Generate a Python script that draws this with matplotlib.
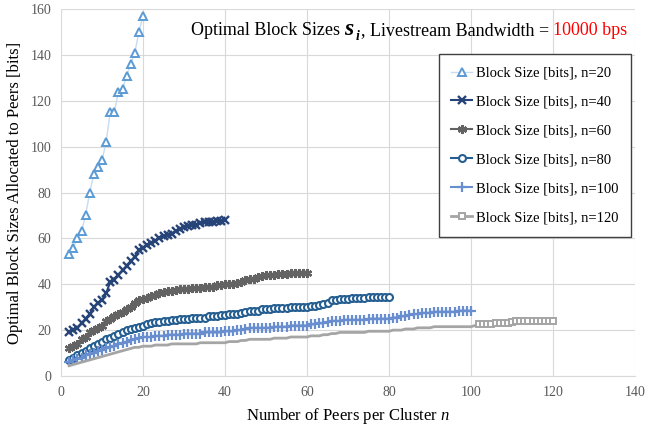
import matplotlib
matplotlib.use("Agg")
import matplotlib.pyplot as plt
import numpy as np

plt.rcParams['font.family'] = ['Liberation Serif', 'DejaVu Serif']
plt.rcParams['mathtext.fontset'] = 'custom'
plt.rcParams['mathtext.rm'] = 'Liberation Serif'
plt.rcParams['mathtext.it'] = 'Liberation Serif:italic'
plt.rcParams['mathtext.bf'] = 'Liberation Serif:bold'

# ---- data ----
y20 = [53, 56, 60, 63, 70, 80, 88, 91, 94, 102, 115, 115, 124, 125, 131, 136, 141, 150, 157]
y40 = [19, 20, 21, 23, 25, 27, 30, 32, 33, 36, 41, 42, 44, 46, 48, 50, 52, 55, 56, 57,
       58, 59, 60, 61, 61.5, 62, 63, 64, 65, 65.5, 66, 66, 66.5, 67, 67, 67, 67.5, 67.5, 68]
y60 = [12, 13, 14, 16, 17, 19, 20, 21, 22, 24, 25, 26, 27, 28, 29, 30, 32, 33, 33.5, 34,
       35, 35.5, 36, 36.5, 37, 37, 37.5, 38, 38, 38, 38.5, 38.5, 38.5, 39, 39, 39, 39.5, 39.5, 40,
       40, 40, 40.5, 41, 42, 42.5, 42.5, 43, 43.5, 44, 44, 44, 44.5, 44.5, 44.5, 45, 45, 45, 45, 45]
y80 = [7, 8, 9, 10, 11, 12, 13, 14, 15, 16, 16.5, 17.5, 18.5, 19, 20, 20.5, 21, 21.5, 22,
       22.5, 23, 23.5, 23.5, 24, 24, 24.5, 24.5, 25, 25, 25, 25.5, 25.5, 25.5, 25.5, 26, 26, 26,
       26.5, 26.5, 27, 27, 27, 27.5, 28, 28.5, 28.5, 28.5, 29, 29, 29, 29.5, 29.5, 29.5, 29.5,
       30, 30, 30, 30, 30, 30.5, 30.5, 31, 31.5, 32, 33, 33, 33.5, 33.5, 33.5, 34, 34, 34, 34,
       34.5, 34.5, 34.5, 34.5, 34.5, 34.5]
y100 = [6, 7, 7.5, 8, 9, 9.5, 10, 11, 11.5, 12, 12.5, 13, 14, 14.5, 15, 15.5, 16, 16.5, 17,
        17, 17, 17.5, 17.5, 17.5, 18, 18, 18, 18, 18.5, 18.5, 18.5, 18.5, 18.5, 19, 19, 19, 19,
        19, 19.5, 19.5, 19.5, 20, 20, 20.5, 21, 21, 21, 21, 21, 21, 21.5, 21.5, 21.5, 21.5, 22,
        22, 22, 22, 22, 22.5, 22.5, 23, 23, 23.5, 24, 24, 24, 24.5, 24.5, 24.5, 24.5, 24.5, 24.5,
        25, 25, 25, 25, 25, 25, 25.5, 25.5, 26, 26, 26.5, 27, 27, 27.5, 27.5, 27.5, 28, 28, 28,
        28, 28, 28, 28.5, 28.5, 28.5, 28.5]
y120 = [4.5, 5, 5.5, 6, 6.5, 7, 7.5, 8, 8.5, 9, 9.5, 10, 10.5, 11, 11.5, 12, 12.5, 12.5, 13,
        13, 13, 13.5, 13.5, 13.5, 13.5, 14, 14, 14, 14, 14, 14, 14, 14.5, 14.5, 14.5, 14.5, 14.5,
        14.5, 14.5, 15, 15, 15, 15.5, 15.5, 16, 16, 16, 16, 16, 16, 16.5, 16.5, 16.5, 16.5, 17,
        17, 17, 17, 17, 17.5, 17.5, 17.5, 18, 18, 18.5, 18.5, 19, 19, 19, 19, 19, 19, 19, 19.5,
        19.5, 19.5, 19.5, 19.5, 19.5, 20, 20, 20, 20.5, 20.5, 20.5, 21, 21, 21, 21, 21.5, 21.5,
        21.5, 21.5, 21.5, 21.5, 21.5, 21.5, 21.5, 21.5, 22, 22.5, 22.5, 22.5, 22.5, 23, 23, 23,
        23, 23.5, 24, 24, 24, 24, 24, 24, 24, 24, 24, 24]
series = [
    (20, y20, 'Block Size [bits], n=20'),
    (40, y40, 'Block Size [bits], n=40'),
    (60, y60, 'Block Size [bits], n=60'),
    (80, y80, 'Block Size [bits], n=80'),
    (100, y100, 'Block Size [bits], n=100'),
    (120, y120, 'Block Size [bits], n=120'),
]

W, H = 645, 434
fig = plt.figure(figsize=(W / 100, H / 100), dpi=100)
L, R, T, B = 61, 635, 9, 376
ax = fig.add_axes([L / W, 1 - B / H, (R - L) / W, (B - T) / H])

styles = {
    20: dict(color='#c5dcf1', marker='^', mec='#5b9bd5', mfc='white', ms=6, mew=1.4, lw=1.0),
    40: dict(color='#264478', marker='x', mec='#264478', ms=5.5, mew=1.7, lw=1.5),
    60: dict(color='#636363', marker=(6, 2, 0), mec='#636363', ms=6.5, mew=1.7, lw=1.5),
    80: dict(color='#255e91', marker='o', mec='#255e91', mfc='white', ms=5, mew=1.5, lw=1.5),
    100: dict(color='#698ed0', marker='+', mec='#698ed0', ms=6.5, mew=1.6, lw=1.5),
    120: dict(color='#a5a5a5', marker='s', mec='#a5a5a5', mfc='white', ms=5, mew=1.4, lw=2.0),
}

for n, ys, lab in series:
    xs = np.arange(2, n + 1)
    kw = dict(styles[n])
    if n == 120:
        kw['markevery'] = slice(100, None)
    ax.plot(xs, ys, label=lab, **kw)

ax.set_xlim(0, 140)
ax.set_ylim(0, 160)
ax.set_xticks(np.arange(0, 141, 20))
ax.set_yticks(np.arange(0, 161, 20))
ax.grid(True, color='#d9d9d9', lw=0.8)
ax.set_axisbelow(True)
for s in ['top', 'right', 'left']:
    ax.spines[s].set_visible(False)
ax.spines['bottom'].set_color('#d9d9d9')
ax.tick_params(length=0, labelsize=10, labelcolor='#595959', pad=7)

ax.set_xlabel('Number of Peers per Cluster $n$', fontsize=12, labelpad=5)
ax.set_ylabel('Optimal Block Sizes Allocated to Peers [bits]', fontsize=12, labelpad=5)

leg = ax.legend(loc='upper right',
                bbox_to_anchor=((631 - L) / (R - L), (B - 54) / (B - T)),
                borderaxespad=0.0,
                fontsize=10.5, frameon=True, fancybox=False, edgecolor='#404040',
                framealpha=1, handlelength=1.4, labelspacing=1.08, borderpad=0.85,
                handletextpad=0.3)
leg.get_frame().set_linewidth(1.0)

# title inside plot, built piece by piece from left to right
fig.canvas.draw()
base_y = 1 - 35 / H
x = 191 / W
pieces = [
    ('Optimal Block Sizes ', dict(fontsize=13, color='black'), 0.0),
    ('s', dict(fontsize=17, color='black', fontweight='bold', fontstyle='italic'), 0.0),
    ('i', dict(fontsize=10, color='black', fontweight='bold', fontstyle='italic'), -5 / H),
    (', Livestream Bandwidth = ', dict(fontsize=13, color='black'), 0.0),
    ('10000 bps', dict(fontsize=13, color='#ff0000'), 0.0),
]
for txt, kw, dy in pieces:
    t = fig.text(x, base_y + dy, txt, ha='left', va='baseline', **kw)
    fig.canvas.draw()
    bb = t.get_window_extent()
    x = bb.x1 / W + (1.5 / W if txt in ('s', 'i') else 0)

fig.savefig('out.png', dpi=100)
